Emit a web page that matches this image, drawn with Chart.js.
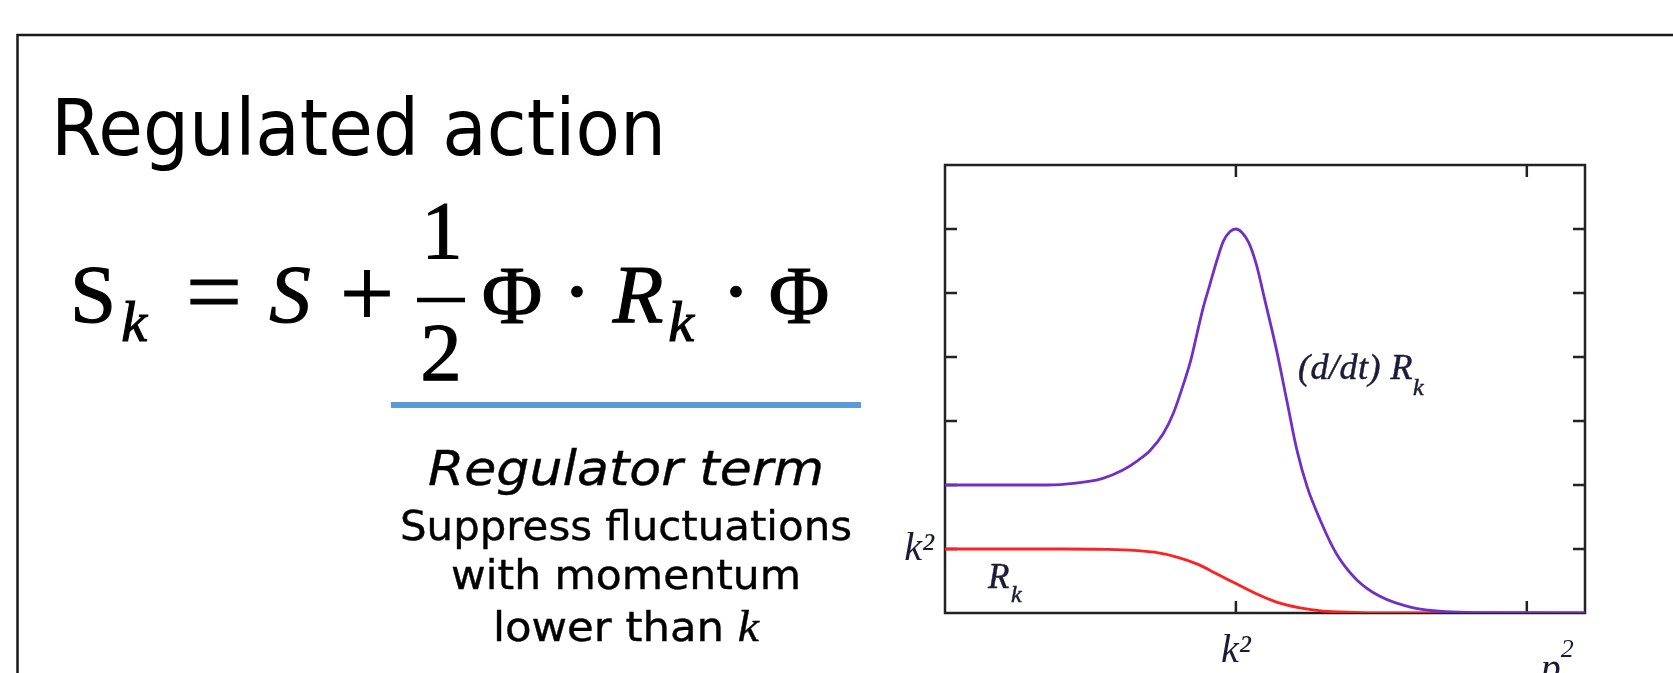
<!DOCTYPE html>
<html>
<head>
<meta charset="utf-8">
<script src="https://cdn.jsdelivr.net/npm/chart.js@4.4.1/dist/chart.umd.min.js"></script>
<style>
  html, body { margin: 0; padding: 0; background: #fff; width: 1673px; height: 673px; overflow: hidden; }
  #slide { position: absolute; left: 0; top: 0; pointer-events: none; }
  #wrap { position: absolute; left: 880px; top: 130px; width: 760px; height: 543px; }
  text { fill: #000; }
  .lbl { fill: #1b1b3a; font-family: "Liberation Serif", serif; font-style: italic; }
</style>
</head>
<body>
<div id="wrap"><canvas id="chart-canvas" width="760" height="543"></canvas></div>

<svg id="slide" width="1673" height="673" xmlns="http://www.w3.org/2000/svg">
  <path d="M1673 35H17.5V673" stroke="#1a1a1a" stroke-width="2.5" fill="none"/>
  <text x="51" y="155" font-family="DejaVu Sans" font-size="78" textLength="615" lengthAdjust="spacingAndGlyphs">Regulated action</text>

  <g font-family="Liberation Serif" text-anchor="middle" stroke="#000" stroke-width="1.1">
    <text x="93" y="322" font-size="83">S</text>
    <text x="134" y="341" font-size="58" font-style="italic">k</text>
    <text x="214" y="324" font-size="96" textLength="56" lengthAdjust="spacingAndGlyphs">=</text>
    <text x="290" y="322" font-size="83" font-style="italic">S</text>
    <text x="367" y="327" font-size="100" textLength="54" lengthAdjust="spacingAndGlyphs">+</text>
    <text x="442" y="258" font-size="83">1</text>
    <text x="441" y="380" font-size="83">2</text>
    <text x="512" y="323" font-size="83">Φ</text>
    <text x="577" y="322" font-size="90">·</text>
    <text x="638" y="322" font-size="83" font-style="italic">R</text>
    <text x="681" y="341" font-size="58" font-style="italic">k</text>
    <text x="736" y="322" font-size="90">·</text>
    <text x="799" y="323" font-size="83">Φ</text>
  </g>
  <line x1="417" y1="300" x2="465" y2="300" stroke="#000" stroke-width="4.5"/>

  <line x1="391" y1="405" x2="861" y2="405" stroke="#5b9bd5" stroke-width="6"/>

  <g font-family="DejaVu Sans" text-anchor="middle" stroke="#000" stroke-width="0.4">
    <text x="626" y="485" font-size="48" font-style="italic" textLength="396" lengthAdjust="spacingAndGlyphs">Regulator term</text>
    <text x="626" y="540" font-size="40" textLength="452" lengthAdjust="spacingAndGlyphs">Suppress fluctuations</text>
    <text x="626" y="589" font-size="40" textLength="350" lengthAdjust="spacingAndGlyphs">with momentum</text>
    <text x="626" y="641" font-size="40" textLength="266" lengthAdjust="spacingAndGlyphs">lower than <tspan font-family="Liberation Serif" font-style="italic" font-size="44">k</tspan></text>
  </g>

  <g stroke="#1b1b3a" stroke-width="0.5">
    <text class="lbl" x="1298" y="379" font-size="36" letter-spacing="0.5">(d/dt) R</text>
    <text class="lbl" x="1413" y="395" font-size="24">k</text>
    <text class="lbl" x="988" y="588" font-size="35">R</text>
    <text class="lbl" x="1011" y="602" font-size="24">k</text>
  </g>
  <text class="lbl" id="p2-label" x="1538" y="681" font-size="40">p<tspan font-size="26" dy="-24">2</tspan></text>
</svg>

<script>
// x in units of k^2, y in arbitrary units
const flowX = [0, 0.35, 0.45, 0.54, 0.61, 0.665, 0.705, 0.75, 0.785, 0.82, 0.845, 0.866, 0.888, 0.911, 0.934, 0.957, 0.98, 1.0, 1.02, 1.045, 1.07, 1.1, 1.14, 1.175, 1.21, 1.245, 1.29, 1.345, 1.415, 1.495, 1.61, 1.72, 1.85, 2.2];
const flowY = [2, 2, 2.03, 2.10, 2.23, 2.39, 2.54, 2.80, 3.12, 3.58, 3.95, 4.36, 4.78, 5.14, 5.50, 5.81, 5.96, 6.0, 5.95, 5.78, 5.45, 4.88, 4.10, 3.32, 2.54, 1.97, 1.45, 0.93, 0.52, 0.26, 0.08, 0.02, 0.005, 0];

const regX = [0, 0.4, 0.55, 0.65, 0.72, 0.8, 0.87, 0.93, 1.0, 1.07, 1.14, 1.22, 1.3, 1.4, 1.5, 2.2];
const regY = [1, 1, 0.995, 0.98, 0.95, 0.87, 0.76, 0.62, 0.46, 0.30, 0.17, 0.08, 0.03, 0.01, 0, 0];

const xTickValues = [1, 2];
const xTickLabels = ['k²', 'p²'];
const yTickValues = [1, 2, 3, 4, 5, 6];
const yTickLabels = ['k²', '', '', '', '', ''];

const pts = (xs, ys) => xs.map((x, i) => ({ x: x, y: ys[i] }));

const frameTicks = {
    id: 'frameTicks',
    beforeDatasetsDraw(chart) {
        const { ctx, chartArea: a, scales: { x, y } } = chart;
        ctx.save();
        ctx.strokeStyle = '#222'; ctx.lineWidth = 2.5;
        ctx.strokeRect(a.left, a.top, a.right - a.left, a.bottom - a.top);
        ctx.beginPath();
        yTickValues.forEach(v => { const py = y.getPixelForValue(v); ctx.moveTo(a.left, py); ctx.lineTo(a.left + 12, py); ctx.moveTo(a.right, py); ctx.lineTo(a.right - 12, py); });
        xTickValues.forEach(v => { const px = x.getPixelForValue(v); ctx.moveTo(px, a.bottom); ctx.lineTo(px, a.bottom - 12); ctx.moveTo(px, a.top); ctx.lineTo(px, a.top + 12); });
        ctx.stroke();
        ctx.restore();
    },
    afterRender(chart) {
        // second x label sits lower and to the right of its tick in the original, half cut off
        const lbl = document.getElementById('p2-label'); if (!lbl) return;
        const px = chart.scales.x.getPixelForValue(xTickValues[1]);
        lbl.setAttribute('x', (880 + px + 14).toFixed(1));
    }
};

const ctx = document.getElementById('chart-canvas').getContext('2d');
window.theChart = new Chart(ctx, {
    type: 'line',
    data: {
        datasets: [
            { label: '(d/dt) R_k', data: pts(flowX, flowY), borderColor: '#7030c8', borderWidth: 2.8, pointRadius: 0, cubicInterpolationMode: 'monotone', fill: false },
            { label: 'R_k', data: pts(regX, regY), borderColor: '#ff2020', borderWidth: 2.8, pointRadius: 0, cubicInterpolationMode: 'monotone', fill: false }
        ]
    },
    options: {
        responsive: false, animation: false, devicePixelRatio: 1,
        layout: { padding: { left: 0, top: 34, right: 55, bottom: 0 } },
        plugins: { legend: { display: false }, tooltip: { enabled: false } },
        scales: {
            x: {
                type: 'linear', min: 0, max: 2.2,
                afterFit: s => { s.height = 60; },
                grid: { display: false, drawTicks: false },
                border: { display: false },
                ticks: {
                    stepSize: 1, padding: 14, maxRotation: 0, autoSkip: false,
                    color: '#1b1b3a', font: { family: 'Liberation Serif', style: 'italic', size: 40 },
                    callback: v => (v === xTickValues[0] ? xTickLabels[0] : '')
                }
            },
            y: {
                type: 'linear', min: 0, max: 7,
                afterFit: s => { s.width = 65; },
                grid: { display: false, drawTicks: false },
                border: { display: false },
                ticks: {
                    stepSize: 1, padding: 11, autoSkip: false,
                    color: '#1b1b3a', font: { family: 'Liberation Serif', style: 'italic', size: 40 },
                    callback: v => { const i = yTickValues.indexOf(v); return i >= 0 ? yTickLabels[i] : ''; }
                }
            }
        }
    },
    plugins: [frameTicks]
});
</script>
</body>
</html>
